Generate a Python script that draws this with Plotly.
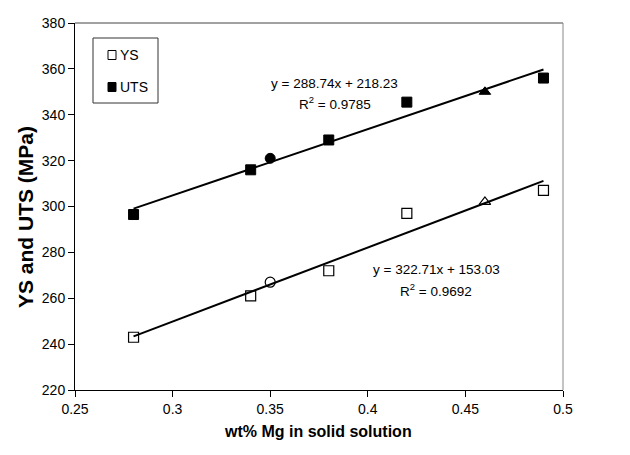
import plotly.graph_objects as go
import numpy as np

# Data
wt_mg = [0.28, 0.34, 0.35, 0.38, 0.42, 0.46, 0.49]
uts = [296.5, 316.0, 321.0, 329.0, 345.5, 350.0, 356.0]
ys = [243.0, 261.0, 267.0, 272.0, 297.0, 302.0, 307.0]
uts_symbols = ["square", "square", "circle", "square", "square", "triangle-up", "square"]
ys_symbols = ["square-open", "square-open", "circle-open", "square-open", "square-open", "triangle-up-open", "square-open"]
uts_fit = [288.74, 218.23]
ys_fit = [322.71, 153.03]
x_ticks = [0.25, 0.3, 0.35, 0.4, 0.45, 0.5]
x_ticktext = ["0.25", "0.3", "0.35", "0.4", "0.45", "0.5"]
y_ticks = [220, 240, 260, 280, 300, 320, 340, 360, 380]

FONT = "Liberation Sans, Arial, sans-serif"

# page-pixel -> paper helpers (page has 8px body margin; plot area l=67,t=15 in figure)
def px(x):
    return (x - 75) / 488.0

def py(y):
    return (390 - y) / 367.0

fig = go.Figure()

xfit = np.array([min(wt_mg), max(wt_mg)])
for coef in (uts_fit, ys_fit):
    fig.add_trace(go.Scatter(x=xfit, y=coef[0] * xfit + coef[1], mode="lines",
                             line=dict(color="black", width=2), showlegend=False,
                             hoverinfo="skip"))

fig.add_trace(go.Scatter(x=wt_mg, y=ys, mode="markers", name="YS", showlegend=False,
                         marker=dict(symbol=ys_symbols, size=10, color="black",
                                     line=dict(color="black", width=1.2))))
fig.add_trace(go.Scatter(x=wt_mg, y=uts, mode="markers", name="UTS", showlegend=False,
                         marker=dict(symbol=uts_symbols, size=10, color="black",
                                     line=dict(color="black", width=1))))

# Equations
eq_font = dict(family=FONT, size=13.5, color="black")
for xx, yy, txt in [(0.383, 353.5, "y = 288.74x + 218.23"),
                    (0.383, 345.0, "R<sup>2</sup> = 0.9785"),
                    (0.435, 272.6, "y = 322.71x + 153.03"),
                    (0.435, 263.5, "R<sup>2</sup> = 0.9692")]:
    fig.add_annotation(x=xx, y=yy, text=txt, showarrow=False, font=eq_font,
                       xanchor="center", yanchor="middle")

# Axis titles
fig.add_annotation(xref="paper", yref="paper", x=px(318), y=py(432),
                   xanchor="center", yanchor="middle",
                   text="<b>wt% Mg in solid solution</b>", showarrow=False,
                   font=dict(family=FONT, size=16, color="black"))
fig.add_annotation(xref="paper", yref="paper", x=px(25), y=py(217), textangle=-90,
                   xanchor="center", yanchor="middle",
                   text="<b>YS and UTS (MPa)</b>", showarrow=False,
                   font=dict(family=FONT, size=21, color="black"))

# Legend (manual)
shapes = []
shapes.append(dict(type="rect", xref="paper", yref="paper",
                   x0=px(93), x1=px(158), y0=py(103), y1=py(38),
                   line=dict(color="#333333", width=1), fillcolor="white", layer="above"))
shapes.append(dict(type="rect", xref="paper", yref="paper",
                   x0=px(108), x1=px(116), y0=py(59.5), y1=py(50.5),
                   line=dict(color="black", width=1), fillcolor="white", layer="above"))
shapes.append(dict(type="rect", xref="paper", yref="paper",
                   x0=px(108), x1=px(116), y0=py(91.5), y1=py(82.5),
                   line=dict(color="black", width=1), fillcolor="black", layer="above"))
# frame top/right (grey)
shapes.append(dict(type="line", xref="paper", yref="paper", x0=0, x1=1, y0=1, y1=1,
                   line=dict(color="#444444", width=1)))
shapes.append(dict(type="line", xref="paper", yref="paper", x0=1, x1=1, y0=0, y1=1,
                   line=dict(color="#888888", width=1)))

leg_font = dict(family=FONT, size=14, color="black")
fig.add_annotation(xref="paper", yref="paper", x=px(118), y=py(55), xanchor="left",
                   yanchor="middle", text="YS", showarrow=False, font=leg_font)
fig.add_annotation(xref="paper", yref="paper", x=px(118), y=py(87), xanchor="left",
                   yanchor="middle", text="UTS", showarrow=False, font=leg_font)

fig.update_layout(
    width=630, height=455,
    margin=dict(l=67, r=75, t=15, b=73, autoexpand=False),
    paper_bgcolor="white", plot_bgcolor="white",
    font=dict(family=FONT, size=14, color="black"),
    showlegend=False,
    shapes=shapes,
    xaxis=dict(range=[0.25, 0.5], tickvals=x_ticks, ticktext=x_ticktext,
               showgrid=False, zeroline=False, showline=True, linecolor="black",
               linewidth=1, ticks="outside", ticklen=6, tickcolor="black",
               automargin=False, tickfont=dict(size=14)),
    yaxis=dict(range=[220, 380], tickvals=y_ticks, showgrid=False, zeroline=False,
               showline=True, linecolor="black", linewidth=1,
               ticks="outside", ticklen=6, tickcolor="black",
               automargin=False, tickfont=dict(size=14)),
)

fig.write_html("out.html")
